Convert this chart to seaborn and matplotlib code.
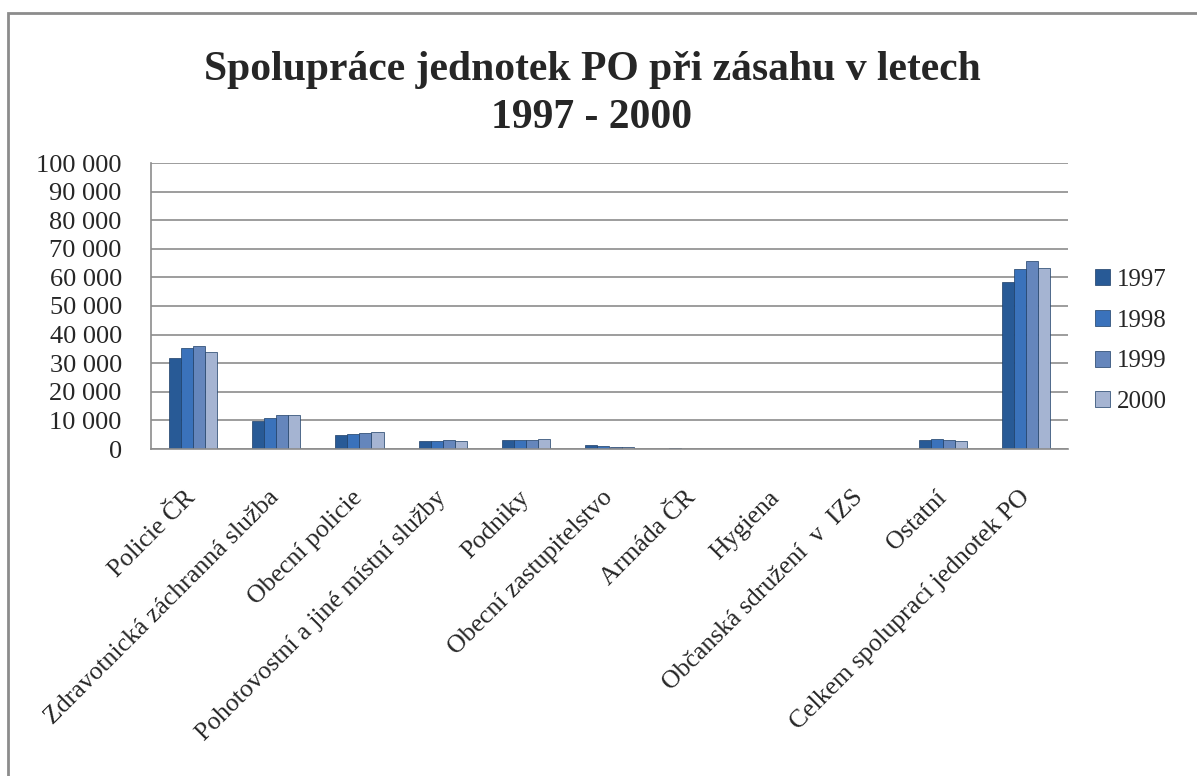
import matplotlib
matplotlib.use("Agg")
import matplotlib.pyplot as plt
import matplotlib.patches as mpatches
import matplotlib.transforms as mtransforms
import numpy as np
import pandas as pd
import seaborn as sns

categories = ["Policie ČR", "Zdravotnická záchranná služba", "Obecní policie",
              "Pohotovostní a jiné místní služby", "Podniky", "Obecní zastupitelstvo",
              "Armáda ČR", "Hygiena", "Občanská sdružení  v  IZS", "Ostatní",
              "Celkem spoluprací jednotek PO"]
years = ["1997", "1998", "1999", "2000"]
v1997 = [31800, 9900, 4900, 2700, 3200, 1500, 300, 0, 0, 3200, 58300]
v1998 = [35400, 10900, 5300, 2700, 3200, 900, 50, 0, 0, 3500, 63000]
v1999 = [36100, 11900, 5700, 3300, 3200, 700, 50, 0, 0, 3200, 65900]
v2000 = [33900, 11800, 6100, 2700, 3500, 700, 50, 0, 0, 2800, 63300]
colors = ["#285a96", "#3a72bb", "#6586bc", "#a5b4d2"]

df = pd.DataFrame({"kategorie": categories * 4,
                   "rok": np.repeat(years, len(categories)),
                   "pocet": v1997 + v1998 + v1999 + v2000})

sns.set_style("white")
plt.rcParams["font.family"] = ["Liberation Serif", "DejaVu Serif"]

fig = plt.figure(figsize=(11.97, 7.76), dpi=100)
ax = fig.add_axes([151 / 1197, 1 - 449 / 776, (1068 - 151) / 1197, (449 - 163) / 776])

sns.barplot(data=df, x="kategorie", y="pocet", hue="rok", palette=colors,
            width=0.58, gap=0, ax=ax, legend=False, saturation=1,
            edgecolor="#1c3d66", linewidth=0.5)

ax.set_ylim(0, 100000)
ax.set_xlim(-0.5, len(categories) - 0.5)
ax.set_yticks(np.arange(0, 100001, 10000))
ax.set_yticklabels([f"{v:,}".replace(",", " ") for v in range(0, 100001, 10000)], fontsize=19)
ax.set_xticks(np.arange(len(categories)))
ax.set_xticklabels(categories, rotation=45, ha="right", rotation_mode="anchor", fontsize=18.5)
ax.set_xticks(np.arange(-0.5, len(categories)), minor=True)
ax.tick_params(axis="x", which="major", length=0, pad=27)
ax.tick_params(axis="x", which="minor", length=7, color="#888888", direction="out")
ax.tick_params(axis="y", length=6, color="#888888", direction="out", pad=15)
shift = mtransforms.ScaledTranslation(-8 / 100, 0, fig.dpi_scale_trans)
for lab in ax.get_xticklabels():
    lab.set_transform(lab.get_transform() + shift)
ax.yaxis.grid(True, color="#8c8c8c", linewidth=1.2)
ax.set_axisbelow(True)
ax.set_xlabel("")
ax.set_ylabel("")
for s in ["top", "right"]:
    ax.spines[s].set_visible(False)
for s in ["left", "bottom"]:
    ax.spines[s].set_color("#8c8c8c")
    ax.spines[s].set_linewidth(1.2)

handles = [mpatches.Patch(facecolor=c, edgecolor="#1c3d66", linewidth=0.5) for c in colors]
fig.legend(handles, years, loc="center left", bbox_to_anchor=(1072 / 1197, 1 - 341 / 776),
           frameon=False, fontsize=18, handlelength=0.6, handleheight=0.6,
           handletextpad=0.3, labelspacing=0.75)

fig.text(592 / 1197, 1 - 94 / 776, "Spolupráce jednotek PO při zásahu v letech\n1997 - 2000",
         ha="center", va="center", fontsize=30, fontweight="bold", linespacing=1.32)

# chart frame (only left and top edges are inside the picture)
fig.patches.append(mpatches.Rectangle((8 / 1197, -0.05), 1.2, 1.05 - 13 / 776,
                                      transform=fig.transFigure, fill=False,
                                      edgecolor="#8c8c8c", linewidth=2))

fig.savefig("out.png", dpi=100)
